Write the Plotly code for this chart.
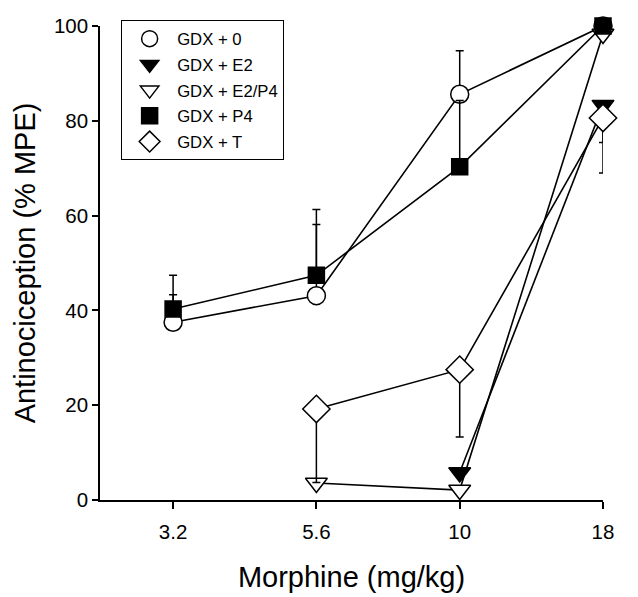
import plotly.graph_objects as go

doses = ["3.2", "5.6", "10", "18"]

series_names = ["GDX + 0", "GDX + E2", "GDX + E2/P4", "GDX + P4", "GDX + T"]

gdx0_x = ["3.2", "5.6", "10", "18"]
gdx0_y = [37.5, 43.1, 85.6, 100]
gdx0_err_plus = [5.8, 15.0, 9.2, 0]
gdx0_err_minus = [0, 0, 0, 0]

e2_x = ["10", "18"]
e2_y = [5.8, 83.3]
e2_err_plus = [0, 0]
e2_err_minus = [0, 7.9]

e2p4_x = ["5.6", "10", "18"]
e2p4_y = [3.6, 2.1, 98.3]
e2p4_err_plus = [0, 0, 0]
e2p4_err_minus = [0, 0, 0]

p4_x = ["3.2", "5.6", "10", "18"]
p4_y = [40.3, 47.4, 70.3, 100]
p4_err_plus = [7.1, 13.9, 14.0, 0]
p4_err_minus = [0, 0, 0, 0]

t_x = ["5.6", "10", "18"]
t_y = [19.2, 27.5, 80.6]
t_err_plus = [0, 0, 0]
t_err_minus = [15.5, 14.2, 11.6]

data = [
    (gdx0_x, gdx0_y, gdx0_err_plus, gdx0_err_minus, "circle", "white", 18),
    (e2_x, e2_y, e2_err_plus, e2_err_minus, "triangle-down", "black", 19),
    (e2p4_x, e2p4_y, e2p4_err_plus, e2p4_err_minus, "triangle-down", "white", 19),
    (p4_x, p4_y, p4_err_plus, p4_err_minus, "square", "black", 16),
    (t_x, t_y, t_err_plus, t_err_minus, "diamond", "white", 21),
]

fig = go.Figure()

for name, (x, y, ep, em, sym, fill, sz) in zip(series_names, data):
    fig.add_trace(go.Scatter(
        x=x, y=y, mode="lines", showlegend=False, hoverinfo="skip",
        line=dict(color="black", width=1.6), cliponaxis=False,
    ))

for i, (name, (x, y, ep, em, sym, fill, sz)) in enumerate(zip(series_names, data)):
    fig.add_trace(go.Scatter(
        x=x, y=y, mode="markers", name=name, cliponaxis=False,
        legendgroup=f"g{i}",
        marker=dict(symbol=sym, size=sz, color=fill,
                    line=dict(color="black", width=1.5)),
        error_y=dict(type="data", symmetric=False, array=ep, arrayminus=em,
                     color="black", thickness=1.5, width=4),
    ))

fig.update_layout(
    width=638, height=597,
    margin=dict(l=92, r=43, t=12, b=105),
    paper_bgcolor="white", plot_bgcolor="white",
    font=dict(family="Liberation Sans, Arial, sans-serif", color="black"),
    showlegend=True,
    legend=dict(
        x=0.042, y=1.012, xanchor="left", yanchor="top",
        bordercolor="black", borderwidth=1, bgcolor="white",
        font=dict(size=16.7), itemsizing="trace", itemwidth=45,
        tracegroupgap=1,
    ),
    xaxis=dict(
        type="category", categoryorder="array", categoryarray=doses,
        tickvals=doses, ticktext=doses,
        range=[-0.51, 3], automargin=False,
        showline=True, linecolor="black", linewidth=1.5,
        ticks="outside", ticklen=7, tickwidth=1.5, tickcolor="black",
        ticklabelstandoff=6,
        showgrid=False, zeroline=False,
        tickfont=dict(size=20.5),
        title=dict(text="Morphine (mg/kg)", font=dict(size=29), standoff=24),
    ),
    yaxis=dict(
        range=[0, 100], tickvals=[0, 20, 40, 60, 80, 100], automargin=False,
        showline=True, linecolor="black", linewidth=1.5,
        ticks="outside", ticklen=6, tickwidth=1.5, tickcolor="black",
        showgrid=False, zeroline=False,
        tickfont=dict(size=20.5),
        title=dict(text="Antinociception (% MPE)", font=dict(size=29), standoff=10),
    ),
)

fig.write_html("out.html")
